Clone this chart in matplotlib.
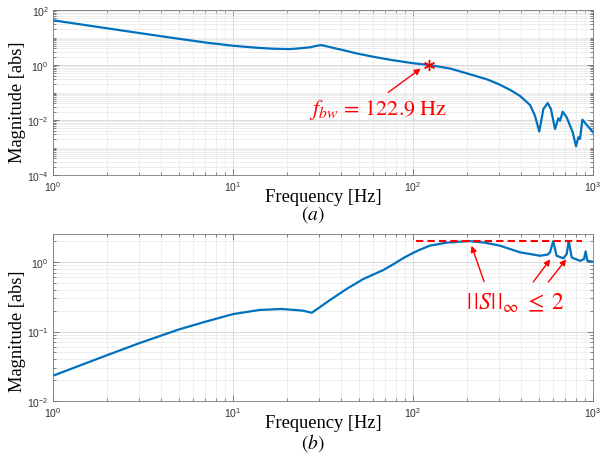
import matplotlib
matplotlib.use("Agg")
import matplotlib.pyplot as plt
import numpy as np

plt.rcParams['mathtext.fontset'] = 'stix'

# ---- data: (a) closed-loop magnitude ----
freq_a = [1, 1.5, 2, 3, 4, 5, 7, 10, 14, 17, 20.7, 23.6, 26.8, 29.2, 31, 36, 40, 48.7, 60, 74.5, 99.4, 122.9,
          160, 205, 258, 300, 350, 393, 447, 476, 503, 530, 560, 584, 615, 642, 656, 679,
          714, 771, 805, 829, 847, 873, 923, 1000]
mag_a = [42.2, 28.5, 21.6, 14.6, 11.1, 9.0, 6.6, 5.0, 4.17, 3.9, 3.8, 4.05, 4.4, 5.0, 5.3, 4.2, 3.6, 2.63, 2.0, 1.55, 1.17, 1.0,
         0.75, 0.47, 0.30, 0.2, 0.12, 0.075, 0.035, 0.0143, 0.0038, 0.025, 0.0415, 0.025, 0.0047, 0.0115, 0.0094, 0.020,
         0.0125, 0.0036, 0.0011, 0.00235, 0.00204, 0.0103, 0.0066, 0.0036]
f_bw = 122.9
mag_bw = 1.0

# ---- data: (b) sensitivity magnitude ----
freq_b = [1, 2, 3, 5, 7, 10, 14, 18.6, 24.3, 27.4, 34.6, 42.8, 53, 65.6, 68, 77.8, 90, 100, 109, 124, 154, 182, 206,
          250, 304, 393, 508, 560, 577, 601, 628, 684, 714, 733, 762, 847, 891, 910, 931, 1000]
mag_b = [0.0231, 0.0457, 0.0676, 0.107, 0.138, 0.178, 0.204, 0.211, 0.2, 0.186, 0.284, 0.41, 0.57, 0.73, 0.76, 0.93, 1.17, 1.35, 1.5, 1.72, 1.9, 1.96, 2.0,
         1.9, 1.72, 1.38, 1.23, 1.28, 1.38, 1.99, 1.23, 1.13, 1.30, 1.99, 1.16, 1.04, 1.10, 1.42, 1.04, 1.01]
bound_freq = [104, 865]
bound_val = 2.0

blue = '#0072BD'
red = '#FF0000'
serif = ['Liberation Serif', 'DejaVu Serif']
sans = ['Liberation Sans', 'DejaVu Sans']

fig = plt.figure(figsize=(6.0, 4.6), dpi=100)
ax1 = fig.add_axes([53/600, 1-176/460, 540/600, 165/460])
ax2 = fig.add_axes([53/600, 1-402/460, 540/600, 167/460])

def style(ax):
    ax.set_xscale('log')
    ax.set_yscale('log')
    ax.grid(True, which='major', color='#d4d4d4', lw=0.6)
    ax.grid(True, which='minor', color='#e8e8e8', lw=0.5)
    ax.set_axisbelow(True)
    ax.tick_params(which='both', direction='in', top=True, right=True,
                   colors='#555555', labelcolor='#333333', labelsize=7.5, width=0.5)
    ax.tick_params(which='major', length=4, pad=3)
    ax.tick_params(which='minor', length=2)
    for s in ax.spines.values():
        s.set_color('#777777')
        s.set_linewidth(0.6)
    ax.set_xlim(1, 1000)
    ax.xaxis.set_major_locator(matplotlib.ticker.LogLocator(base=10, numticks=10))
    ax.xaxis.set_minor_locator(matplotlib.ticker.LogLocator(base=10, subs=np.arange(2, 10), numticks=20))
    ax.xaxis.set_minor_formatter(matplotlib.ticker.NullFormatter())

# (a)
ax1.plot(freq_a, mag_a, color=blue, lw=1.6)
ax1.plot([f_bw], [mag_bw], marker=(6, 2, 0), color=red, ms=8, mew=1.0, ls='none')
style(ax1)
ax1.set_ylim(1e-4, 1e2)
ax1.set_yticks([1e-4, 1e-2, 1e0, 1e2])
ax1.yaxis.set_minor_locator(matplotlib.ticker.LogLocator(base=10, subs=np.arange(1, 10), numticks=30))
ax1.yaxis.set_minor_formatter(matplotlib.ticker.NullFormatter())
ax1.annotate('', xy=(113.6, 0.85), xytext=(70.8, 0.088),
             arrowprops=dict(arrowstyle='-|>', color=red, lw=1.0, mutation_scale=9))
ax1.text(63.5, 0.025, r'$f_{bw}$' + r'$\,=\,122.9\;\mathrm{Hz}$', color=red, fontsize=16,
         ha='center', va='center')

# (b)
ax2.plot(freq_b, mag_b, color=blue, lw=1.6)
ax2.plot(bound_freq, [bound_val, bound_val], color=red, lw=1.5, ls=(0, (3.5, 2)))
style(ax2)
ax2.set_ylim(1e-2, 2.53)
ax2.set_yticks([1e-2, 1e-1, 1e0])
ax2.yaxis.set_minor_formatter(matplotlib.ticker.NullFormatter())
for (xh, yh), (xt, yt) in [((209, 1.87), (251, 0.48)), ((592, 1.18), (456, 0.48)), ((726, 1.18), (553, 0.48))]:
    ax2.annotate('', xy=(xh, yh), xytext=(xt, yt),
                 arrowprops=dict(arrowstyle='-|>', color=red, lw=1.0, mutation_scale=9))
ax2.text(369, 0.27, r'$|\,|S|\,|_{\infty}\;\leq\;2$', color=red, fontsize=17,
         ha='center', va='center')

for ax in (ax1, ax2):
    for lab in ax.get_xticklabels() + ax.get_yticklabels():
        lab.set_family(sans)

# labels
fig.text(323/600, 1-197/460, 'Frequency [Hz]', family=serif, fontsize=13.3, ha='center', va='center')
fig.text(313/600, 1-215/460, r'$(a)$', fontsize=14, ha='center', va='center')
fig.text(323/600, 1-424/460, 'Frequency [Hz]', family=serif, fontsize=13.3, ha='center', va='center')
fig.text(313/600, 1-443/460, r'$(b)$', fontsize=14, ha='center', va='center')
fig.text(17.5/600, 1-102/460, 'Magnitude [abs]', family=serif, fontsize=13.3, rotation=90, ha='center', va='center')
fig.text(17.5/600, 1-331/460, 'Magnitude [abs]', family=serif, fontsize=13.3, rotation=90, ha='center', va='center')

fig.savefig('out.png', dpi=100)
